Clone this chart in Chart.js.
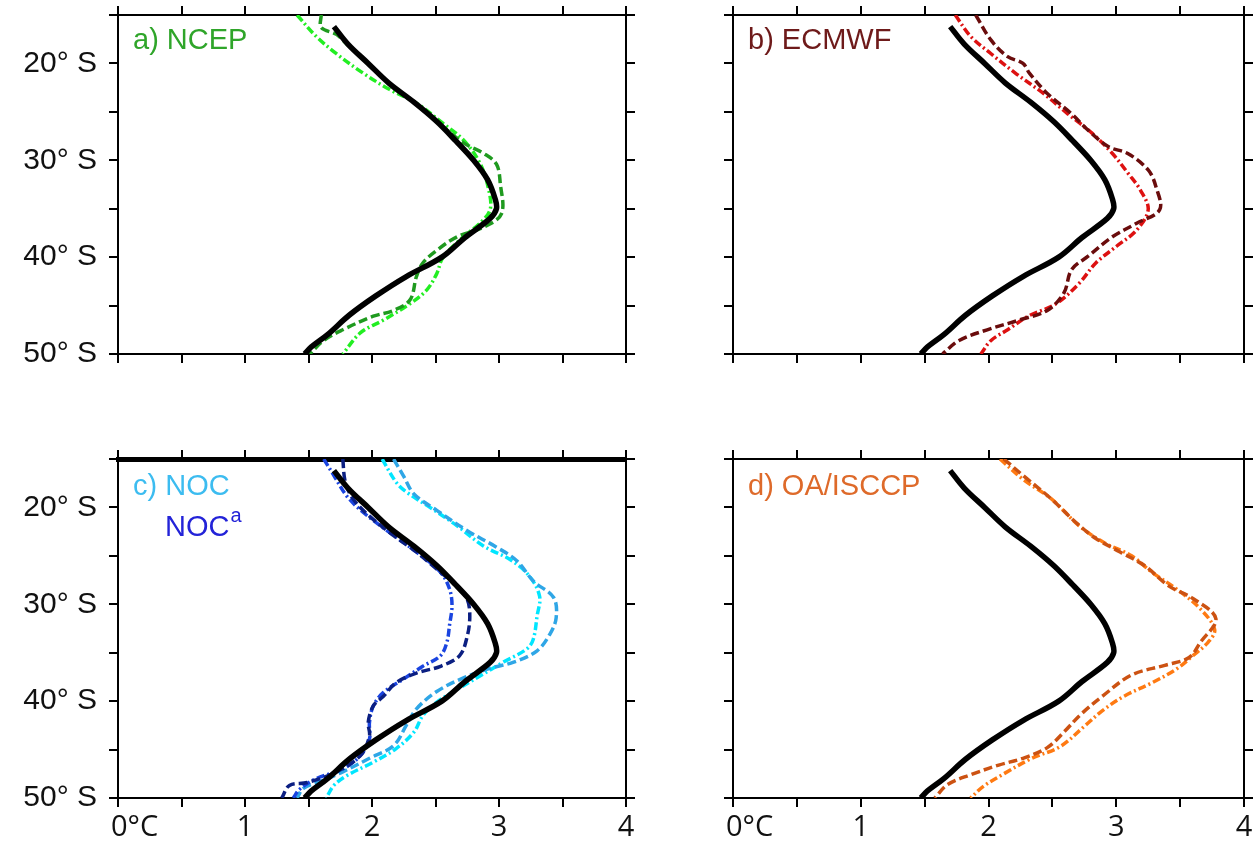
<!DOCTYPE html>
<html>
<head>
<meta charset="utf-8">
<script src="https://cdn.jsdelivr.net/npm/chart.js@4.4.0/dist/chart.umd.min.js"></script>
<style>
    body { margin: 0; background: #fff; }
    #wrap { position: relative; width: 1259px; height: 843px; overflow: hidden; }
    canvas { position: absolute; }
</style>
</head>
<body>
<div id="wrap">
    <canvas id="panel-a" width="640" height="410" style="left:0;top:0"></canvas>
    <canvas id="panel-b" width="619" height="410" style="left:640px;top:0"></canvas>
    <canvas id="panel-c" width="640" height="423" style="left:0;top:420px"></canvas>
    <canvas id="panel-d" width="619" height="423" style="left:640px;top:420px"></canvas>
</div>
<script>
// latitude in degrees south, temperature difference in °C

// observed reference (thick black, same in every panel)
const blackLat  = [16.2, 18, 20, 22, 24, 26, 28, 30, 32, 34, 35, 36, 38, 40, 42, 44, 46, 48, 49.3, 50];
const blackTemp = [1.70, 1.81, 1.97, 2.13, 2.33, 2.51, 2.66, 2.80, 2.91, 2.97, 2.98, 2.93, 2.73, 2.55, 2.27, 2.03, 1.82, 1.65, 1.52, 1.47];

// a) NCEP
const ncepDarkLat  = [15, 16.3, 17, 18, 20, 22, 24, 26, 28.2, 29.3, 30.4, 32.4, 35.5, 36.9, 37.9, 39.3, 40.6, 42, 44.4, 45.5, 46.1, 47.5, 48.6, 50];
const ncepDarkTemp = [1.60, 1.60, 1.72, 1.80, 1.97, 2.13, 2.33, 2.51, 2.72, 2.88, 2.98, 3.01, 3.02, 2.88, 2.67, 2.51, 2.40, 2.35, 2.30, 2.17, 2.01, 1.77, 1.62, 1.51];
const ncepLightLat  = [15, 17.2, 19, 21, 22.7, 24.1, 26.2, 27.9, 30.3, 33.1, 35.1, 36.5, 37.9, 40, 41.7, 43.4, 44.8, 46.5, 47.8, 50];
const ncepLightTemp = [1.41, 1.56, 1.72, 1.93, 2.14, 2.35, 2.56, 2.72, 2.85, 2.92, 2.93, 2.85, 2.72, 2.56, 2.51, 2.43, 2.30, 2.09, 1.91, 1.77];

// b) ECMWF
const ecmwfDarkLat  = [15, 17.6, 19.3, 20, 21, 23.1, 25.2, 26.9, 28.6, 29.3, 31.0, 32.7, 35.1, 36.5, 37.9, 39.9, 41.3, 43.7, 45.5, 46.5, 47.5, 48.6, 50];
const ecmwfDarkTemp = [1.90, 2.02, 2.15, 2.27, 2.32, 2.46, 2.65, 2.78, 2.94, 3.09, 3.25, 3.31, 3.34, 3.16, 2.97, 2.78, 2.65, 2.59, 2.46, 2.24, 1.99, 1.77, 1.64];
const ecmwfLightLat  = [15, 17.2, 19, 21, 23.1, 25.2, 27.2, 29.3, 31.3, 33.1, 35.1, 37.2, 38.9, 40.6, 42.7, 44.8, 46.1, 47.5, 48.6, 50];
const ecmwfLightTemp = [1.74, 1.86, 2.02, 2.21, 2.43, 2.62, 2.81, 2.97, 3.09, 3.19, 3.25, 3.16, 3.00, 2.84, 2.71, 2.53, 2.31, 2.15, 2.02, 1.94];

// c) NOC and NOC^a
const nocaDarkLat  = [15, 17.4, 19.1, 20.9, 22.9, 24.6, 26.7, 28.1, 29.5, 31.2, 33.3, 35.3, 36.4, 37.1, 38.1, 39.5, 40.5, 42.2, 43.6, 45.6, 47.3, 48.4, 48.7, 50];
const nocaDarkTemp = [1.77, 1.79, 1.85, 1.98, 2.17, 2.35, 2.54, 2.67, 2.75, 2.77, 2.75, 2.69, 2.54, 2.35, 2.19, 2.09, 2.01, 1.97, 1.98, 1.91, 1.72, 1.49, 1.35, 1.29];
const nocaLightLat  = [15, 16.7, 18.8, 20.5, 22.6, 24.6, 26.7, 28.4, 30.1, 32.2, 33.9, 35.3, 36.4, 37.7, 39.1, 40.5, 42.2, 43.9, 45.6, 47.0, 48.0, 49.1, 50];
const nocaLightTemp = [1.62, 1.70, 1.80, 1.93, 2.14, 2.35, 2.54, 2.61, 2.63, 2.61, 2.59, 2.54, 2.40, 2.25, 2.09, 2.01, 1.98, 1.98, 1.91, 1.77, 1.56, 1.43, 1.38];
const nocCyanLat  = [15, 17.4, 18.4, 20.2, 21.9, 24, 25.4, 27.1, 29.2, 31.2, 33.6, 34.6, 36.0, 37.4, 38.8, 40.1, 41.5, 43.2, 44.9, 46.3, 47.7, 48.7, 50];
const nocCyanTemp = [2.08, 2.19, 2.27, 2.48, 2.67, 2.88, 3.09, 3.24, 3.32, 3.30, 3.27, 3.22, 3.03, 2.85, 2.67, 2.51, 2.40, 2.33, 2.19, 2.01, 1.80, 1.70, 1.64];
const nocSkyLat  = [15, 16.8, 18.6, 20.3, 22.4, 24.1, 25.5, 27.6, 29.3, 31.4, 33.1, 34.8, 36.0, 36.6, 37.6, 39.0, 40.8, 42.5, 44.6, 45.9, 47.3, 48.3, 49.0, 50];
const nocSkyTemp = [2.17, 2.25, 2.33, 2.51, 2.75, 2.98, 3.14, 3.27, 3.43, 3.45, 3.40, 3.30, 3.11, 2.93, 2.72, 2.51, 2.35, 2.27, 2.17, 1.98, 1.77, 1.59, 1.46, 1.41];

// d) OA/ISCCP
const oaDarkLat  = [15, 16.7, 19.1, 21.5, 23.2, 24.6, 26.0, 28.1, 29.4, 31.5, 33.9, 35.5, 36.3, 37.3, 39.4, 41.4, 43.2, 44.8, 45.9, 46.6, 47.6, 48.6, 50];
const oaDarkTemp = [2.12, 2.27, 2.49, 2.68, 2.84, 3.03, 3.22, 3.41, 3.60, 3.78, 3.66, 3.57, 3.38, 3.12, 2.90, 2.72, 2.59, 2.46, 2.27, 2.08, 1.86, 1.68, 1.58];
const oaLightLat  = [15, 17.1, 19.1, 21.9, 23.6, 25.0, 26.7, 28.4, 30.5, 32.6, 33.9, 35.3, 36.7, 38.1, 39.5, 40.9, 42.6, 44.7, 45.9, 47.5, 48.8, 50];
const oaLightTemp = [2.09, 2.27, 2.49, 2.71, 2.90, 3.12, 3.28, 3.47, 3.66, 3.77, 3.72, 3.60, 3.47, 3.28, 3.06, 2.90, 2.75, 2.56, 2.34, 2.12, 1.96, 1.86];

const latTicks = { min: 15, max: 50, step: 5 };
const tempTicks = { min: 0, max: 4, step: 0.5 };

const DASHED = [9, 4];
const DASH_DOT = [8, 3, 2, 3];

function toPoints(lats, temps) {
    return lats.map((lat, i) => ({ x: temps[i], y: lat }));
}

function blackLine() {
    return {
        data: toPoints(blackLat, blackTemp),
        borderColor: "#000",
        borderWidth: 5.5,
    };
}

function colouredLine(lats, temps, color, dash) {
    return {
        data: toPoints(lats, temps),
        borderColor: color,
        borderWidth: 3.5,
        borderDash: dash,
    };
}

const tickFontY = { family: "'Liberation Sans', Arial, sans-serif", size: 30 };
const tickFontX = { family: "'Open Sans', sans-serif", size: 29 };

// pin the axis box sizes so the plot boxes land where the reference has them
function fixSize(size) {
    return (scale) => {
        if (scale.isHorizontal()) scale.height = size;
        else scale.width = size;
        scale.paddingTop = 0;
        scale.paddingBottom = 0;
        scale.paddingLeft = 0;
        scale.paddingRight = 0;
    };
}

function axisStyle(position, size, callback, font, padding, stepSize, borderWidth) {
    return {
        position: position,
        grid: { drawOnChartArea: false, drawTicks: true, tickLength: 9, color: "#000", lineWidth: 2 },
        border: { display: true, color: "#000", width: borderWidth || 2 },
        ticks: { autoSkip: false, maxRotation: 0, color: "#111", font: font, padding: padding, callback: callback, stepSize: stepSize },
        afterFit: fixSize(size),
    };
}

const noLabel = () => "";
const tempLabel = (value) => {
    if (value === 0) return "\u2007\u20070°C";
    return Number.isInteger(value) ? String(value) : "";
};
const latLabel = (value) => (value % 10 === 0 ? value + "° S" : "");

// title text drawn inside the plot box
const titlePlugin = {
    id: "panelTitle",
    afterDraw(chart, args, opts) {
        const ctx = chart.ctx;
        const area = chart.chartArea;
        ctx.save();
        ctx.textBaseline = "middle";
        ctx.textAlign = "left";
        for (const item of opts.items || []) {
            ctx.font = "29px 'Liberation Sans', Arial, sans-serif";
            ctx.fillStyle = item.color;
            const x = area.left + item.dx;
            const y = area.top + item.dy;
            ctx.fillText(item.text, x, y);
            if (item.sup) {
                const w = ctx.measureText(item.text).width;
                ctx.font = "20px 'Liberation Sans', Arial, sans-serif";
                ctx.fillText(item.sup, x + w + 1, y - 12);
            }
        }
        ctx.restore();
    },
};

function makePanel(canvasId, box, datasets, showX, showY, titles, topBorder) {
    const canvas = document.getElementById(canvasId);
    return new Chart(canvas, {
        type: "scatter",
        data: { datasets: datasets.map((d) => ({ ...d, showLine: true, pointRadius: 0, tension: 0.35, fill: false })) },
        options: {
            responsive: false,
            animation: false,
            layout: { padding: 0 },
            plugins: { legend: { display: false }, tooltip: { enabled: false }, panelTitle: { items: titles } },
            scales: {
                x: {
                    type: "linear", min: tempTicks.min, max: tempTicks.max,
                    ...axisStyle("bottom", box.bottom, showX ? tempLabel : noLabel, tickFontX, 3, tempTicks.step),
                },
                xTop: {
                    type: "linear", axis: "x", min: tempTicks.min, max: tempTicks.max,
                    ...axisStyle("top", box.top, noLabel, tickFontX, 0, tempTicks.step, topBorder),
                },
                y: {
                    type: "linear", min: latTicks.min, max: latTicks.max, reverse: true,
                    ...axisStyle("left", box.left, showY ? latLabel : noLabel, tickFontY, 12, latTicks.step),
                },
                yRight: {
                    type: "linear", axis: "y", min: latTicks.min, max: latTicks.max, reverse: true,
                    ...axisStyle("right", box.right, noLabel, tickFontY, 0, latTicks.step),
                },
            },
        },
        plugins: [titlePlugin],
    });
}

makePanel("panel-a", { left: 118, right: 14, top: 15, bottom: 56 }, [
    blackLine(),
    colouredLine(ncepDarkLat, ncepDarkTemp, "#1f9a1f", DASHED),
    colouredLine(ncepLightLat, ncepLightTemp, "#22ee22", DASH_DOT),
], false, true, [{ text: "a) NCEP", color: "#2fa52a", dx: 15, dy: 26 }]);

makePanel("panel-b", { left: 93, right: 15, top: 15, bottom: 56 }, [
    blackLine(),
    colouredLine(ecmwfDarkLat, ecmwfDarkTemp, "#6a0c0c", DASHED),
    colouredLine(ecmwfLightLat, ecmwfLightTemp, "#dd1111", DASH_DOT),
], false, false, [{ text: "b) ECMWF", color: "#6e1a1a", dx: 15, dy: 26 }]);

makePanel("panel-c", { left: 118, right: 14, top: 39, bottom: 45 }, [
    blackLine(),
    colouredLine(nocaDarkLat, nocaDarkTemp, "#0b1f82", DASHED),
    colouredLine(nocaLightLat, nocaLightTemp, "#1a44e0", DASH_DOT),
    colouredLine(nocSkyLat, nocSkyTemp, "#2fa6e6", DASHED),
    colouredLine(nocCyanLat, nocCyanTemp, "#00e6ff", DASH_DOT),
], true, true, [
    { text: "c) NOC", color: "#3cbcf0", dx: 15, dy: 28 },
    { text: "NOC", sup: "a", color: "#2323d8", dx: 47, dy: 69 },
], 5);

makePanel("panel-d", { left: 93, right: 15, top: 39, bottom: 45 }, [
    blackLine(),
    colouredLine(oaDarkLat, oaDarkTemp, "#cc5212", DASHED),
    colouredLine(oaLightLat, oaLightTemp, "#ff7a12", DASH_DOT),
], true, false, [{ text: "d) OA/ISCCP", color: "#de6a2a", dx: 15, dy: 28 }]);
</script>
</body>
</html>
